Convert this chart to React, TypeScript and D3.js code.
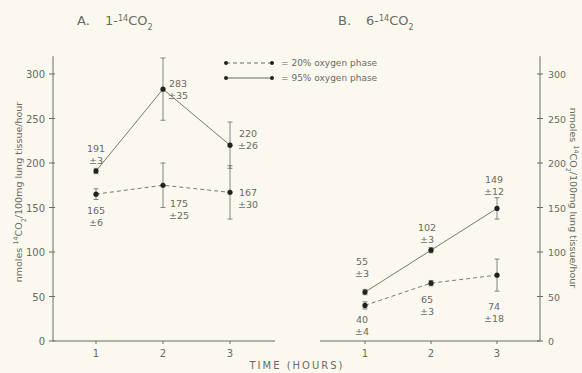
import React from "react";
import * as d3 from "d3";

const hours = [1, 2, 3];
const yTicks = [0, 50, 100, 150, 200, 250, 300];
const a20 = [165, 175, 167];
const a20err = [6, 25, 30];
const a95 = [191, 283, 220];
const a95err = [3, 35, 26];
const b20 = [40, 65, 74];
const b20err = [4, 3, 18];
const b95 = [55, 102, 149];
const b95err = [3, 3, 12];

const INK = "#6a6a62";
const FONT = "DejaVu Sans, sans-serif";

type Lab = { dx: number; dy: number };

function Series({ x, y, vals, errs, dashed, labs }: any) {
  const line = d3.line<number>().x((_, i) => x(hours[i])).y((v) => y(v));
  return (
    <g>
      <path d={line(vals) || ""} fill="none" stroke={INK} strokeWidth={0.9} strokeDasharray={dashed ? "4,3" : undefined} />
      {vals.map((v: number, i: number) => {
        const cx = x(hours[i]);
        const lab: Lab = labs[i];
        return (
          <g key={i}>
            <line x1={cx} x2={cx} y1={y(v - errs[i])} y2={y(v + errs[i])} stroke={INK} strokeWidth={0.8} />
            <line x1={cx - 2.5} x2={cx + 2.5} y1={y(v - errs[i])} y2={y(v - errs[i])} stroke={INK} strokeWidth={0.8} />
            <line x1={cx - 2.5} x2={cx + 2.5} y1={y(v + errs[i])} y2={y(v + errs[i])} stroke={INK} strokeWidth={0.8} />
            <circle cx={cx} cy={y(v)} r={2.6} fill="#222" />
            <text x={cx + lab.dx} y={y(v) + lab.dy} textAnchor="middle" fontSize={9.5} fill={INK} fontFamily={FONT}>
              <tspan x={cx + lab.dx}>{v}</tspan>
              <tspan x={cx + lab.dx} dy={11.5}>{"±" + errs[i]}</tspan>
            </text>
          </g>
        );
      })}
    </g>
  );
}

function AxisLabel({ x, y, rot }: { x: number; y: number; rot: number }) {
  return (
    <text transform={`translate(${x},${y}) rotate(${rot})`} textAnchor="middle" fontSize={9.5} fill={INK} fontFamily={FONT}>
      nmoles <tspan fontSize={6.5} baselineShift="super">14</tspan>CO<tspan fontSize={6.5} baselineShift="sub">2</tspan>/100mg  lung  tissue/hour
    </text>
  );
}

function Title({ x, y, letter, num }: any) {
  return (
    <g fontSize={13} fill={INK} fontFamily={FONT}>
      <text x={x} y={y}>{letter + "."}</text>
      <text x={x + 28} y={y}>
        {num + "-"}
        <tspan fontSize={8} baselineShift="super">14</tspan>
        CO<tspan fontSize={8} baselineShift="sub">2</tspan>
      </text>
    </g>
  );
}

export default function App() {
  const y = d3.scaleLinear().domain([0, 300]).range([341, 74]);
  const xA = d3.scaleLinear().domain([1, 3]).range([96, 230]);
  const xB = d3.scaleLinear().domain([1, 3]).range([365, 497]);
  const yTop = y(320);

  const labA20: Lab[] = [
    { dx: 0, dy: 20 },
    { dx: 16, dy: 22 },
    { dx: 18, dy: 4 },
  ];
  const labA95: Lab[] = [
    { dx: 0, dy: -19 },
    { dx: 15, dy: -2 },
    { dx: 18, dy: -8 },
  ];
  const labB20: Lab[] = [
    { dx: -3, dy: 18 },
    { dx: -4, dy: 20 },
    { dx: -3, dy: 35 },
  ];
  const labB95: Lab[] = [
    { dx: -3, dy: -27 },
    { dx: -4, dy: -19 },
    { dx: -3, dy: -25 },
  ];

  return (
    <svg width={582} height={373} style={{ position: "absolute", left: 0, top: 0, background: "#fbf9ef" }}>
      <rect width={582} height={373} fill="#fbf9ef" />
      <Title x={77} y={25} letter="A" num="1" />
      <Title x={338} y={25} letter="B" num="6" />

      {/* Panel A axes */}
      <line x1={53} x2={53} y1={yTop} y2={y(0)} stroke={INK} strokeWidth={1} />
      <line x1={53} x2={275} y1={y(0)} y2={y(0)} stroke={INK} strokeWidth={1} />
      {yTicks.map((t) => (
        <g key={"a" + t}>
          <line x1={49} x2={55} y1={y(t)} y2={y(t)} stroke={INK} />
          <text x={45} y={y(t) + 4} textAnchor="end" fontSize={10} fill={INK} fontFamily={FONT}>{t}</text>
        </g>
      ))}
      {hours.map((h) => (
        <g key={"ax" + h}>
          <line x1={xA(h)} x2={xA(h)} y1={y(0)} y2={y(0) + 3} stroke={INK} />
          <text x={xA(h)} y={y(0) + 16} textAnchor="middle" fontSize={10} fill={INK} fontFamily={FONT}>{h}</text>
        </g>
      ))}
      <AxisLabel x={22} y={192} rot={-90} />
      <Series x={xA} y={y} vals={a20} errs={a20err} dashed labs={labA20} />
      <Series x={xA} y={y} vals={a95} errs={a95err} dashed={false} labs={labA95} />

      {/* Panel B axes */}
      <line x1={540} x2={540} y1={yTop} y2={y(0)} stroke={INK} strokeWidth={1} />
      <line x1={320} x2={540} y1={y(0)} y2={y(0)} stroke={INK} strokeWidth={1} />
      {yTicks.map((t) => (
        <g key={"b" + t}>
          <line x1={537} x2={543} y1={y(t)} y2={y(t)} stroke={INK} />
          <text x={548} y={y(t) + 4} textAnchor="start" fontSize={9.5} fill={INK} fontFamily={FONT}>{t}</text>
        </g>
      ))}
      {hours.map((h) => (
        <g key={"bx" + h}>
          <line x1={xB(h)} x2={xB(h)} y1={y(0)} y2={y(0) + 3} stroke={INK} />
          <text x={xB(h)} y={y(0) + 16} textAnchor="middle" fontSize={10} fill={INK} fontFamily={FONT}>{h}</text>
        </g>
      ))}
      <AxisLabel x={570} y={198} rot={90} />
      <Series x={xB} y={y} vals={b20} errs={b20err} dashed labs={labB20} />
      <Series x={xB} y={y} vals={b95} errs={b95err} dashed={false} labs={labB95} />

      <text x={297} y={369} textAnchor="middle" fontSize={10} fill={INK} fontFamily={FONT} letterSpacing={2}>TIME (HOURS)</text>

      {/* Legend */}
      <line x1={226} x2={272} y1={63} y2={63} stroke={INK} strokeDasharray="4,3" />
      <circle cx={226} cy={63} r={2} fill="#222" />
      <circle cx={272} cy={63} r={2} fill="#222" />
      <text x={281} y={66} fontSize={9} fill={INK} fontFamily={FONT}>=  20%  oxygen phase</text>
      <line x1={226} x2={272} y1={78} y2={78} stroke={INK} />
      <circle cx={226} cy={78} r={2} fill="#222" />
      <circle cx={272} cy={78} r={2} fill="#222" />
      <text x={281} y={81} fontSize={9} fill={INK} fontFamily={FONT}>=  95%  oxygen phase</text>
    </svg>
  );
}
